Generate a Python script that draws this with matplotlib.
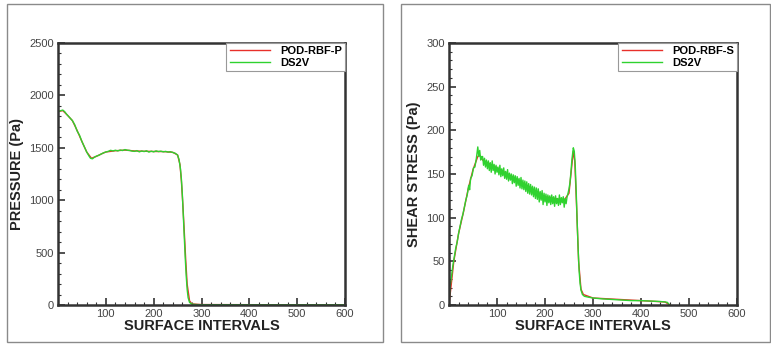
import matplotlib.pyplot as plt
from matplotlib.patches import Rectangle
from matplotlib.ticker import MultipleLocator, FixedLocator

plt.rcParams['font.family'] = ['Liberation Sans', 'DejaVu Sans']

# Pressure along the surface, DS2V (noisy) and POD-RBF-P (smooth)
p_ds2v_x = [0, 3, 6, 10, 14, 18, 22, 26, 30, 35, 40, 45, 50, 55, 60, 65, 68, 72, 76, 80,
            85, 90, 95, 100, 105, 110, 115, 120, 125, 130, 135, 140, 145, 150, 155, 160,
            165, 170, 175, 180, 185, 190, 195, 200, 205, 210, 215, 220, 225, 230, 235,
            240, 245, 250, 253, 256, 258, 260, 262, 264, 266, 268, 270, 272, 275, 280,
            290, 300, 350, 400, 450, 500, 550, 600]
p_ds2v_y = [1840, 1850, 1855, 1860, 1845, 1820, 1800, 1780, 1760, 1720, 1660, 1620, 1560,
            1510, 1460, 1420, 1400, 1395, 1410, 1420, 1428, 1440, 1452, 1460, 1466, 1476,
            1470, 1477, 1470, 1479, 1474, 1483, 1477, 1475, 1468, 1466, 1473, 1461, 1470,
            1464, 1472, 1459, 1468, 1461, 1471, 1464, 1468, 1461, 1466, 1459, 1463, 1455,
            1448, 1430, 1390, 1300, 1200, 1050, 850, 650, 450, 280, 150, 70, 25, 8,
            4, 3, 3, 2, 2, 2, 2, 2]
p_pod_x = [0, 10, 20, 30, 40, 50, 60, 70, 80, 90, 100, 120, 140, 160, 180, 200, 220, 240,
           250, 255, 258, 261, 264, 267, 270, 275, 280, 300, 400, 500, 600]
p_pod_y = [1845, 1855, 1810, 1760, 1665, 1560, 1460, 1400, 1418, 1440, 1460, 1472, 1478,
           1470, 1467, 1465, 1464, 1457, 1432, 1340, 1180, 960, 700, 430, 200, 40, 10,
           4, 3, 2, 2]

# Shear stress along the surface
s_ds2v_x = [0, 2, 5, 8, 11, 14, 17, 20, 23, 26, 29, 32, 35, 38, 41, 43, 45, 48, 51, 54,
            57, 60, 62, 64, 66, 68,
            70, 72, 74, 76, 78, 80, 82, 84, 86, 88, 90, 92, 94, 96, 98, 100, 102, 104,
            106, 108, 110, 112, 114, 116, 118, 120, 122, 124, 126, 128, 130, 132, 134,
            136, 138, 140, 142, 144, 146, 148, 150, 152, 154, 156, 158, 160, 162, 164,
            166, 168, 170, 172, 174, 176, 178, 180, 182, 184, 186, 188, 190, 192, 194,
            196, 198, 200, 202, 204, 206, 208, 210, 212, 214, 216, 218, 220, 222, 224,
            226, 228, 230, 232, 234, 236, 238, 240, 242, 244, 246, 248, 250,
            252, 254, 256, 258, 259, 261, 263, 265, 267, 269, 271, 273,
            275, 278, 282, 290, 300, 320, 350, 380, 400, 420, 440, 450, 455, 458, 460]
s_ds2v_y = [0, 20, 32, 45, 55, 65, 72, 82, 90, 98, 104, 112, 120, 126, 137, 132, 145, 148,
            157, 158, 168, 181, 170, 177, 166, 170,
            170, 160, 168, 158, 166, 156, 165, 154, 163, 152, 165, 154, 161, 150, 160,
            152, 158, 149, 160, 147, 156, 148, 157, 145, 153, 144, 155, 142, 151, 143,
            150, 139, 149, 140, 148, 136, 147, 137, 145, 134, 146, 133, 143, 132, 142,
            130, 141, 128, 139, 127, 138, 126, 136, 124, 135, 122, 134, 121, 133, 118,
            130, 120, 131, 115, 128, 118, 127, 114, 126, 117, 125, 115, 126, 116, 124,
            113, 125, 116, 122, 114, 126, 115, 123, 117, 124, 112, 122, 116, 124, 128,
            133,
            140, 152, 166, 176, 180, 176, 160, 130, 95, 65, 40, 25,
            17, 12, 10, 9, 8, 7, 6, 5, 5, 4.5, 4, 3.5, 3, 1, 0]
s_pod_x = [0, 10, 20, 30, 40, 50, 60, 63, 70, 100, 150, 200, 240, 250, 255, 259, 262, 266,
           270, 275, 280, 300, 400, 450, 460]
s_pod_y = [0, 50, 82, 106, 133, 155, 170, 172, 166, 157, 141, 124, 120, 128, 155, 176,
           165, 110, 50, 18, 12, 8, 5, 3.5, 0]

RED = '#e8302a'
GREEN = '#2fd22f'

fig = plt.figure(figsize=(7.71, 3.45), dpi=100)

# gray frames around each panel
for x0, x1 in [(7, 383), (401, 770)]:
    fig.patches.append(Rectangle((x0 / 771, 3 / 345), (x1 - x0) / 771, 338 / 345,
                                 transform=fig.transFigure, fill=False,
                                 edgecolor='#8a8a8a', linewidth=1))


def setup(ax, ymax, ymajor, yminor, ylabel):
    ax.set_xlim(0, 600)
    ax.set_ylim(0, ymax)
    ax.xaxis.set_major_locator(FixedLocator([100, 200, 300, 400, 500, 600]))
    ax.xaxis.set_minor_locator(MultipleLocator(20))
    ax.yaxis.set_major_locator(MultipleLocator(ymajor))
    ax.yaxis.set_minor_locator(MultipleLocator(yminor))
    ax.tick_params(which='both', direction='in', top=False, right=False,
                   color='#333333', labelsize=8, labelcolor='#444444', pad=3)
    ax.tick_params(which='major', length=5, width=1.2)
    ax.tick_params(which='minor', length=2.5, width=0.8)
    for s in ax.spines.values():
        s.set_linewidth(1.8)
        s.set_color('#333333')
    ax.set_xlabel('SURFACE INTERVALS', fontsize=10.5, fontweight='bold',
                  color='#222222', labelpad=0)
    ax.set_ylabel(ylabel, fontsize=10.5, fontweight='bold', color='#222222', labelpad=4)


ax1 = fig.add_axes([58 / 771, 40 / 345, 287 / 771, 262 / 345])
ax1.plot(p_pod_x, p_pod_y, color=RED, lw=1, label='POD-RBF-P')
ax1.plot(p_ds2v_x, p_ds2v_y, color=GREEN, lw=1, label='DS2V')
setup(ax1, 2500, 500, 100, 'PRESSURE (Pa)')

ax2 = fig.add_axes([449 / 771, 40 / 345, 288 / 771, 262 / 345])
ax2.plot(s_pod_x, s_pod_y, color=RED, lw=1, label='POD-RBF-S')
ax2.plot(s_ds2v_x, s_ds2v_y, color=GREEN, lw=1, label='DS2V')
setup(ax2, 300, 50, 10, 'SHEAR STRESS (Pa)')

for ax in (ax1, ax2):
    leg = ax.legend(loc='upper right', borderaxespad=0, fancybox=False,
                    edgecolor='#999999', framealpha=1, handlelength=3.6,
                    handletextpad=0.9, labelspacing=0.15, borderpad=0.3,
                    prop={'weight': 'bold', 'size': 8})
    leg.get_frame().set_linewidth(0.8)

fig.savefig('out.png', dpi=100)
